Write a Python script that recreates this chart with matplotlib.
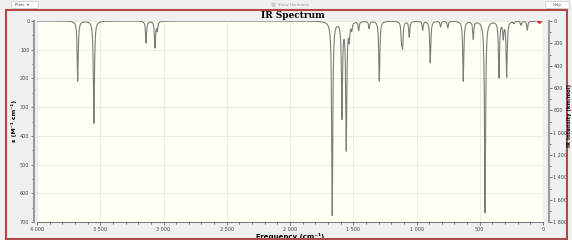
import matplotlib.pyplot as plt
import numpy as np
from matplotlib.patches import Rectangle, FancyBboxPatch
from matplotlib.ticker import MultipleLocator, FuncFormatter

# peak positions (cm-1) and heights (epsilon)
freqs = [3678, 3550, 3138, 3067, 3049, 1666, 1589, 1555, 1531, 1512, 1457,
         1375, 1294, 1118, 1110, 1057, 951, 891, 809, 752, 630, 551, 458,
         348, 314, 287, 229, 174, 124]
heights = [209, 356, 76, 92, 31, 675, 330, 442, 56, 25, 31,
           25, 209, 60, 80, 55, 31, 145, 20, 22, 209, 61, 667,
           195, 55, 192, 7, 14, 31]
hwhm = 5.0

x = np.arange(0, 4000.25, 0.25)
eps = np.zeros_like(x)
for f, h in zip(freqs, heights):
    eps += h / (1 + ((x - f) / hwhm) ** 2)

def spaced(v, pos):
    return "{:,}".format(int(round(v))).replace(",", " ")

fig = plt.figure(figsize=(5.72, 2.40), dpi=100)
fig.patch.set_facecolor('#f0f0f0')

ax = fig.add_axes([37/572, 1-222/240, 506/572, 201/240])
ax.set_facecolor('#fffff6')
ax.plot(x, eps, color='#7c7c7c', lw=0.8)
ax.plot([32], [0], 'o', color='#e03030', ms=2.2, zorder=5)
ax.set_xlim(4000, 0)
ax.set_ylim(700, 0)
ax.xaxis.set_major_locator(MultipleLocator(500))
ax.xaxis.set_minor_locator(MultipleLocator(100))
ax.yaxis.set_major_locator(MultipleLocator(100))
ax.yaxis.set_minor_locator(MultipleLocator(50))
ax.xaxis.set_major_formatter(FuncFormatter(spaced))
ax.grid(True, which='major', color='#e8e8de', lw=0.6)
ax.set_axisbelow(True)
ax.tick_params(labelsize=3.5, colors='#444444', length=2, width=0.5, pad=1.5)
ax.tick_params(which='minor', length=1.2, width=0.4)
for s in ['top', 'right']:
    ax.spines[s].set_visible(False)
ax.spines['left'].set_position(('outward', 2))
ax.spines['left'].set_color('#9a9a9a')
ax.spines['left'].set_linewidth(1.5)
ax.spines['bottom'].set_color('#666666')
ax.spines['bottom'].set_linewidth(0.6)
ax.set_xlabel('Frequency (cm⁻¹)', fontsize=5, fontweight='bold', labelpad=1)
ax.set_ylabel('ε (M⁻¹ cm⁻¹)', fontsize=4.5, fontweight='bold', labelpad=2.5)

ax2 = ax.twinx()
ax2.set_ylim(1800, 0)
ax2.yaxis.set_major_locator(MultipleLocator(200))
ax2.yaxis.set_minor_locator(MultipleLocator(100))
ax2.yaxis.set_major_formatter(FuncFormatter(spaced))
ax2.tick_params(labelsize=3.5, colors='#444444', length=2, width=0.5, pad=1.5)
ax2.tick_params(which='minor', length=1.2, width=0.4)
for s in ['top', 'left', 'bottom']:
    ax2.spines[s].set_visible(False)
ax2.spines['right'].set_position(('outward', 4))
ax2.spines['right'].set_color('#9a9a9a')
ax2.spines['right'].set_linewidth(1.5)

fig.text(569.3/572, 0.52, 'IR Intensity (km/mol)', rotation=90, fontsize=3.8,
         fontweight='bold', ha='center', va='center')

fig.text(293/572, 1-15/240, 'IR Spectrum', fontsize=6.5, fontweight='bold',
         family='DejaVu Serif', ha='center', va='center')

# window frame and toolbar
fig.patches.append(Rectangle((6/572, 1/240), 561/572, 229/240, transform=fig.transFigure,
                             fill=False, edgecolor='#b04a4a', lw=1.5))
fig.patches.append(FancyBboxPatch((13/572, 1-8/240), 24/572, 6/240, transform=fig.transFigure,
                                  boxstyle='round,pad=0.002', facecolor='white',
                                  edgecolor='#bbbbbb', lw=0.4))
fig.text(22/572, 1-5/240, 'Plots  ▾', fontsize=2.8, color='#444444', ha='center', va='center')
fig.patches.append(FancyBboxPatch((547/572, 1-8/240), 21/572, 6/240, transform=fig.transFigure,
                                  boxstyle='round,pad=0.002', facecolor='white',
                                  edgecolor='#bbbbbb', lw=0.4))
fig.text(557/572, 1-5/240, 'Help', fontsize=2.8, color='#444444', ha='center', va='center')
fig.patches.append(Rectangle((272/572, 1-6/240), 3/572, 3/240, transform=fig.transFigure,
                             facecolor='#dddddd', edgecolor='#999999', lw=0.3))
fig.text(278/572, 1-4.5/240, 'Show Harmonic', fontsize=2.8, color='#999999', ha='left', va='center')

fig.savefig('out.png', dpi=100, facecolor=fig.get_facecolor())
